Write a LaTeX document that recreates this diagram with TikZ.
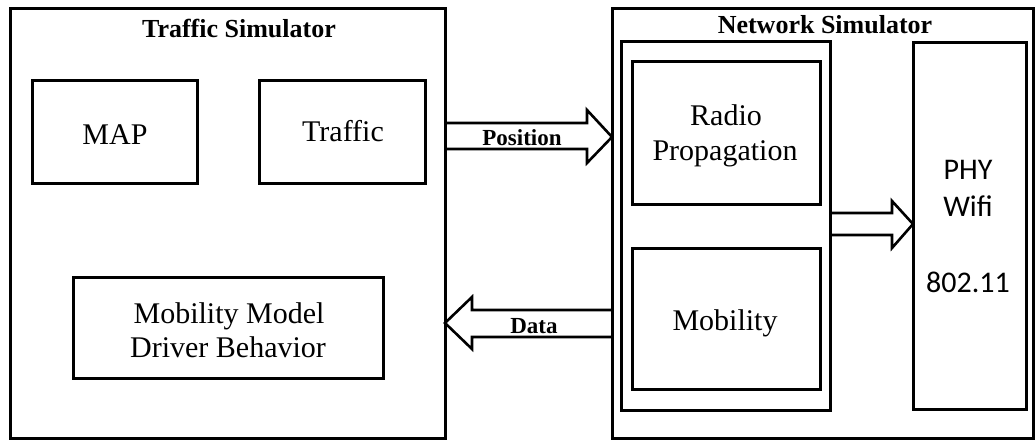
\documentclass[tikz,border=0pt]{standalone}
\usepackage{fontspec}
\setmainfont{Liberation Serif}
\newfontfamily\calfont{Carlito}
\begin{document}
\begin{tikzpicture}[x=1pt,y=-1pt,
  box/.style={draw, line width=3pt, inner sep=0pt, outer sep=0pt, anchor=north west},
  lbl/.style={anchor=base, inner sep=0pt, font=\fontsize{30}{34}\selectfont},
  slbl/.style={anchor=base, inner sep=0pt, font=\calfont\fontsize{30}{34}\selectfont},
  ttl/.style={anchor=base, inner sep=0pt, font=\bfseries\fontsize{26}{30}\selectfont},
  albl/.style={anchor=base, inner sep=0pt, font=\bfseries\fontsize{23}{26}\selectfont},
  blockarrow/.style={draw, line width=2.6pt, line join=miter}]
\useasboundingbox (0,0) rectangle (1036,440);
% outer boxes
\node[box, minimum width=435pt, minimum height=430pt] (ts) at (10,8) {};
\node[box, minimum width=421pt, minimum height=430pt] (ns) at (612,8) {};
\node[ttl] (tstitle) at (239,37) {Traffic Simulator};
\node[ttl] (nstitle) at (825,33) {Network Simulator};
% traffic simulator content
\node[box, minimum width=165pt, minimum height=103pt] (map) at (32,80) {};
\node[box, minimum width=166pt, minimum height=103pt] (traffic) at (259,80) {};
\node[box, minimum width=310pt, minimum height=101pt] (mm) at (73,277) {};
\node[lbl] (maptxt) at (115,144) {MAP};
\node[lbl] (traffictxt) at (343,141) {Traffic};
\node[lbl] (mm1) at (229,323) {Mobility Model};
\node[lbl] (mm2) at (228,357) {Driver Behavior};
% network simulator content
\node[box, minimum width=209pt, minimum height=369pt] (cont) at (621,41) {};
\node[box, minimum width=188pt, minimum height=143pt] (radio) at (632,61) {};
\node[box, minimum width=188pt, minimum height=141pt] (mob) at (632,248) {};
\node[box, minimum width=113pt, minimum height=367pt] (phy) at (913,42) {};
\node[lbl] (r1) at (726,125) {Radio};
\node[lbl] (r2) at (725,160) {Propagation};
\node[lbl] (mobtxt) at (725,330) {Mobility};
\node[slbl] (p1) at (968,179) {PHY};
\node[slbl] (p2) at (968,216) {Wifi};
\node[slbl] (p3) at (968,292) {802.11};
% block arrows
\draw[blockarrow] (ts.east |- 0,123) -- (587,123) -- (587,110) -- (ns.west |- 0,137)
  -- (587,163) -- (587,149) -- (ts.east |- 0,149);
\node[albl] (pos) at (522,145) {Position};
\draw[blockarrow] (ns.west |- 0,310) -- (472,310) -- (472,297) -- (ts.east |- 0,323)
  -- (472,349) -- (472,337) -- (ns.west |- 0,337);
\node[albl] (data) at (534,333) {Data};
\draw[blockarrow] (cont.east |- 0,213) -- (892,213) -- (892,201) -- (phy.west |- 0,224)
  -- (892,248) -- (892,235) -- (cont.east |- 0,235);
\end{tikzpicture}
\end{document}
